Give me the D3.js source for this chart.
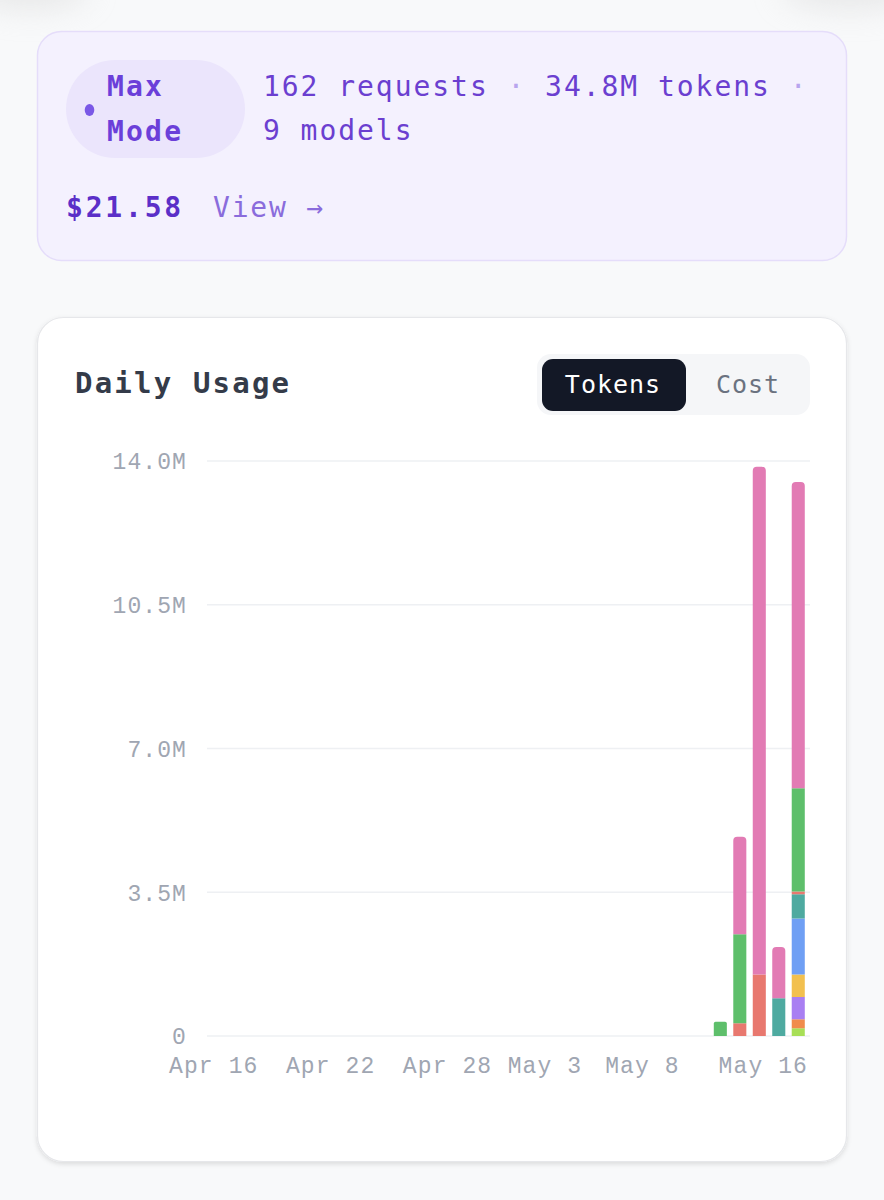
<!DOCTYPE html>
<html><head><meta charset="utf-8">
<script src="https://cdn.jsdelivr.net/npm/d3@7"></script>
<style>
html,body{margin:0;padding:0;background:#f8f9fa;}
svg{display:block;}
</style></head>
<body>
<svg id="page" width="884" height="1200"></svg>
<script>
// ---- data ----
const categories = ["Apr 16","Apr 17","Apr 18","Apr 19","Apr 20","Apr 21","Apr 22","Apr 23","Apr 24","Apr 25","Apr 26","Apr 27","Apr 28","Apr 29","Apr 30","May 1","May 2","May 3","May 4","May 5","May 6","May 7","May 8","May 9","May 10","May 11","May 12","May 13","May 14","May 15","May 16"];
const tickLabels = ["Apr 16","Apr 22","Apr 28","May 3","May 8","May 16"];
const yTicks = [0, 3.5, 7.0, 10.5, 14.0];
const activeDays = ["May 12","May 13","May 14","May 15","May 16"];
// stack order: bottom -> top (values in millions of tokens)
const seriesNames = ["model9","model8","model7","model6","model5","model4","model3","model2","model1"];
const seriesColors = ["#a8df57","#f08c4c","#a97ff2","#f2c04f","#6f9ff4","#4eaaa0","#e8786f","#5ebf6b","#e27bb4"];
const model9 = [0, 0, 0, 0, 0.19];
const model8 = [0, 0, 0, 0, 0.22];
const model7 = [0, 0, 0, 0, 0.54];
const model6 = [0, 0, 0, 0, 0.55];
const model5 = [0, 0, 0, 0, 1.36];
const model4 = [0, 0, 0, 0.92, 0.59];
const model3 = [0, 0.31, 1.50, 0, 0.07];
const model2 = [0.35, 2.17, 0, 0, 2.51];
const model1 = [0, 2.37, 12.36, 1.25, 7.46];
const seriesValues = [model9, model8, model7, model6, model5, model4, model3, model2, model1];

const summary = {requests: "162 requests", tokens: "34.8M tokens", models: "9 models", cost: "$21.58"};

// ---- page ----
const svg = d3.select("#page");
const defs = svg.append("defs");
const f = defs.append("filter").attr("id","shadow").attr("x","-10%").attr("y","-10%").attr("width","120%").attr("height","130%");
f.append("feDropShadow").attr("dx",0).attr("dy",2).attr("stdDeviation",2.5).attr("flood-color","#000").attr("flood-opacity",0.12);
const f2 = defs.append("filter").attr("id","blur").attr("x","-100%").attr("y","-100%").attr("width","300%").attr("height","300%");
f2.append("feGaussianBlur").attr("stdDeviation",14);

// faint shading at the top corners (edge of a card above)
svg.append("ellipse").attr("cx",30).attr("cy",-10).attr("rx",60).attr("ry",22).attr("fill","#dcdcdc").attr("opacity",0.5).attr("filter","url(#blur)");
svg.append("ellipse").attr("cx",850).attr("cy",-10).attr("rx",70).attr("ry",22).attr("fill","#dcdcdc").attr("opacity",0.5).attr("filter","url(#blur)");

const mono = "'DejaVu Sans Mono', monospace";
const axisFont = "'Liberation Mono', 'DejaVu Sans Mono', monospace";

// Max Mode card
svg.append("rect").attr("x",37.5).attr("y",31.5).attr("width",809).attr("height",229).attr("rx",24)
  .attr("fill","#f4f1fe").attr("stroke","#e5ddfa").attr("stroke-width",1.5);
svg.append("rect").attr("x",66).attr("y",60).attr("width",179).attr("height",98).attr("rx",49).attr("fill","#ebe5fc");
svg.append("ellipse").attr("cx",89.5).attr("cy",110).attr("rx",4.8).attr("ry",6).attr("fill","#7a58e6");
const mm = svg.append("text").attr("font-family",mono).attr("font-weight","bold").attr("font-size",28)
  .attr("letter-spacing",2.2).attr("fill","#6b3fd9");
mm.append("tspan").attr("x",107).attr("y",96).text("Max");
mm.append("tspan").attr("x",107).attr("y",141).text("Mode");

const l1 = svg.append("text").attr("x",263).attr("y",96).attr("font-family",mono).attr("font-size",28)
  .attr("letter-spacing",1.95).attr("fill","#6b3fd0");
l1.append("tspan").text(summary.requests + " ");
l1.append("tspan").attr("fill","#b8a5ee").text("·");
l1.append("tspan").text(" " + summary.tokens + " ");
l1.append("tspan").attr("fill","#b8a5ee").text("·");
svg.append("text").attr("x",263).attr("y",140).attr("font-family",mono).attr("font-size",28)
  .attr("letter-spacing",1.95).attr("fill","#6b3fd0").text(summary.models);
svg.append("text").attr("x",66).attr("y",217).attr("font-family",mono).attr("font-weight","bold").attr("font-size",28)
  .attr("letter-spacing",2.8).attr("fill","#5b2fc8").text(summary.cost);
svg.append("text").attr("x",213).attr("y",217).attr("font-family",mono).attr("font-size",28)
  .attr("letter-spacing",1.8).attr("fill","#8a6cdc").text("View →");

// Daily usage card
svg.append("rect").attr("x",37.5).attr("y",317.5).attr("width",809).attr("height",844).attr("rx",26)
  .attr("fill","#ffffff").attr("stroke","#e6e7ea").attr("stroke-width",1.2).attr("filter","url(#shadow)");
svg.append("text").attr("x",75).attr("y",393).attr("font-family",mono).attr("font-weight","bold").attr("font-size",29)
  .attr("letter-spacing",2.2).attr("fill","#343b49").text("Daily Usage");

// toggle
svg.append("rect").attr("x",537).attr("y",354).attr("width",273).attr("height",61).attr("rx",14).attr("fill","#f5f6f8");
svg.append("rect").attr("x",542).attr("y",359).attr("width",144).attr("height",52).attr("rx",11).attr("fill","#131826");
svg.append("text").attr("x",613).attr("y",393).attr("text-anchor","middle").attr("font-family",mono).attr("font-size",25)
  .attr("letter-spacing",1).attr("fill","#ffffff").text("Tokens");
svg.append("text").attr("x",748).attr("y",393).attr("text-anchor","middle").attr("font-family",mono).attr("font-size",25)
  .attr("letter-spacing",1).attr("fill","#6b7280").text("Cost");

// ---- chart ----
const x = d3.scaleBand().domain(categories).range([204, 808]).paddingInner(0.33).paddingOuter(0.165);
const y = d3.scaleLinear().domain([0, 14]).range([1036, 461]);

const g = svg.append("g");
// gridlines
g.selectAll("line.grid").data(yTicks).join("line").attr("class","grid")
  .attr("x1",207).attr("x2",810).attr("y1",d=>y(d)).attr("y2",d=>y(d))
  .attr("stroke","#eef0f3").attr("stroke-width",1.5);

const fmt = d => d === 0 ? "0" : d.toFixed(1) + "M";
const yAxis = d3.axisLeft(y).tickValues(yTicks).tickFormat(fmt).tickSize(0).tickPadding(0);
const ya = g.append("g").attr("transform","translate(187,0)").call(yAxis);
ya.select(".domain").remove();
ya.selectAll("text").attr("font-family",axisFont).attr("font-size",23).attr("letter-spacing",1.1)
  .attr("fill","#a0a6b2").attr("dy","0.34em");

const xAxis = d3.axisBottom(x).tickValues(tickLabels).tickSize(0).tickPadding(0);
const xa = g.append("g").attr("transform","translate(0,1073)").call(xAxis);
xa.select(".domain").remove();
xa.selectAll("text").attr("font-family",axisFont).attr("font-size",23).attr("letter-spacing",1.1)
  .attr("fill","#a0a6b2").attr("dy",0);
xa.selectAll(".tick").filter(d => d === tickLabels[tickLabels.length-1])
  .attr("transform","translate(808,0)").select("text").attr("text-anchor","end");

// stacked bars
const table = activeDays.map((day, i) => {
  const row = {day};
  seriesNames.forEach((s, k) => row[s] = seriesValues[k][i]);
  return row;
});
const stacked = d3.stack().keys(seriesNames)(table);
const topKey = {};
table.forEach(row => {
  let last = null;
  seriesNames.forEach(s => { if (row[s] > 0) last = s; });
  topKey[row.day] = last;
});
const r = 4;
function barPath(x0, w, yTop, yBot, rounded) {
  const h = yBot - yTop;
  const rr = rounded ? Math.min(r, h/8, w/2) : 0;
  return `M${x0},${yBot} L${x0},${yTop+rr} Q${x0},${yTop} ${x0+rr},${yTop} L${x0+w-rr},${yTop} Q${x0+w},${yTop} ${x0+w},${yTop+rr} L${x0+w},${yBot} Z`;
}
stacked.forEach((layer, k) => {
  g.append("g").selectAll("path").data(layer.filter(d => d[1] - d[0] > 0)).join("path")
    .attr("fill", seriesColors[k])
    .attr("d", d => barPath(x(d.data.day), x.bandwidth(), y(d[1]), y(d[0]), topKey[d.data.day] === layer.key));
});
</script>
</body></html>
